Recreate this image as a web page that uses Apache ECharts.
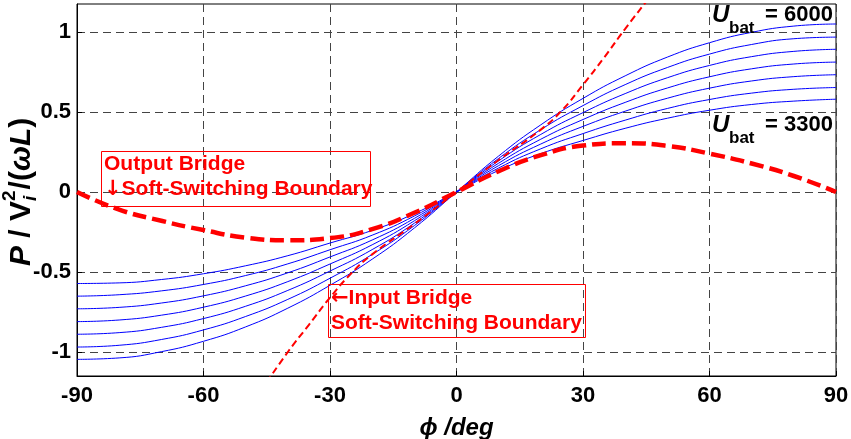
<!DOCTYPE html>
<html>
<head>
<meta charset="utf-8">
<script src="https://cdn.jsdelivr.net/npm/echarts@6/dist/echarts.min.js"></script>
<style>
    html, body { margin: 0; padding: 0; background: #fff; }
    #chart { width: 851px; height: 439px; }
</style>
</head>
<body>
<div id="chart"></div>
<script>
    // phase shift samples (deg)
    const phi = [-90, -80, -70, -60, -50, -40, -30, -20, -10, 0, 10, 20, 30, 40, 50, 60, 70, 80, 90];

    // normalised power curves, Ubat = 6000 (top) ... 3300 (bottom)
    const p6000 = [-1.046, -1.037, -0.998, -0.933, -0.843, -0.726, -0.583, -0.42, -0.225, 0, 0.225, 0.42, 0.585, 0.726, 0.843, 0.933, 0.998, 1.037, 1.05];
    const p5550 = [-0.969, -0.958, -0.922, -0.862, -0.778, -0.671, -0.539, -0.39, -0.21, 0, 0.21, 0.39, 0.54, 0.671, 0.778, 0.862, 0.922, 0.958, 0.968];
    const p5100 = [-0.889, -0.879, -0.846, -0.791, -0.714, -0.615, -0.494, -0.36, -0.195, 0, 0.195, 0.36, 0.496, 0.615, 0.714, 0.791, 0.846, 0.879, 0.892];
    const p4650 = [-0.81, -0.80, -0.77, -0.72, -0.65, -0.56, -0.45, -0.33, -0.18, 0, 0.18, 0.33, 0.453, 0.56, 0.65, 0.72, 0.77, 0.80, 0.812];
    const p4200 = [-0.73, -0.721, -0.694, -0.649, -0.586, -0.505, -0.406, -0.30, -0.165, 0, 0.165, 0.30, 0.41, 0.505, 0.586, 0.649, 0.694, 0.721, 0.733];
    const p3750 = [-0.651, -0.642, -0.618, -0.578, -0.522, -0.449, -0.361, -0.27, -0.15, 0, 0.15, 0.27, 0.365, 0.449, 0.522, 0.578, 0.618, 0.642, 0.653];
    const p3300 = [-0.572, -0.568, -0.547, -0.511, -0.461, -0.398, -0.319, -0.24, -0.135, 0, 0.135, 0.24, 0.322, 0.398, 0.461, 0.511, 0.547, 0.568, 0.58];

    // output bridge soft-switching boundary (thick dashed)
    const pOut = [0, -0.11, -0.18, -0.238, -0.285, -0.302, -0.288, -0.232, -0.13, 0, 0.13, 0.23, 0.29, 0.305, 0.288, 0.24, 0.178, 0.1, 0];

    // input bridge soft-switching boundary (thin dashed)
    const phiIn = [-45, -40, -35, -30, -25, -20, -10, 0, 10, 20, 25, 30, 35, 40, 45];
    const pIn = [-1.19, -1.0, -0.83, -0.66, -0.51, -0.39, -0.2, 0, 0.2, 0.39, 0.51, 0.67, 0.84, 1.02, 1.19];

    const yTicks = [-1, -0.5, 0, 0.5, 1];

    const fam = '"Liberation Sans", Arial, sans-serif';
    const blueCurves = [p6000, p5550, p5100, p4650, p4200, p3750, p3300];

    function pairs(xs, ys) {
        return xs.map((x, i) => [x, ys[i]]);
    }

    // text width helper for the rotated y label
    const ctx = document.createElement('canvas').getContext('2d');
    function tw(font, s) {
        ctx.font = font;
        return ctx.measureText(s).width;
    }

    const fMain = 'bold 30px ' + fam;
    const fIt = 'italic bold 30px ' + fam;
    const fSmall = 'bold 19px ' + fam;
    const fSmallIt = 'italic bold 19px ' + fam;

    let lx = 0;
    const yName = [];
    function put(text, font, dy) {
        yName.push({
            type: 'text',
            x: lx, y: dy,
            style: { text: text, font: font, fill: '#000', textAlign: 'left', align: 'left', textVerticalAlign: 'middle', verticalAlign: 'middle' }
        });
        return tw(font, text);
    }
    lx += put('P', fIt, 0);
    lx += put(' / V', fMain, 0);
    const w2 = put('2', fSmall, -12);
    const wi = put('i', fSmallIt, 9);
    lx += Math.max(w2, wi) + 1;
    lx += put('/(', fMain, 0);
    lx += put('ω', fIt, 0);
    lx += put('L', fIt, 0);
    put(')', fMain, 0);

    const arrowRich = {
        a: { fontFamily: '"DejaVu Sans", sans-serif', fontWeight: 'bold', fontSize: 21, fill: '#ff0000', color: '#ff0000' }
    };
    function redText(text, x, y) {
        return { type: 'text', x: x, y: y, z: 100,
            style: { text: text, font: 'bold 21px ' + fam, fill: '#ff0000', textAlign: 'left', textVerticalAlign: 'top', verticalAlign: 'top', rich: arrowRich } };
    }
    function redBox(x, y, w, h) {
        return { type: 'rect', z: 100, shape: { x: x, y: y, width: w, height: h },
            style: { fill: 'none', stroke: '#ff0000', lineWidth: 1 } };
    }
    function blackText(text, x, y, font, align) {
        return { type: 'text', x: x, y: y, z: 100,
            style: { text: text, font: font, fill: '#000', textAlign: align || 'left', align: align || 'left', textVerticalAlign: 'top', verticalAlign: 'top' } };
    }

    const series = blueCurves.map((c, k) => ({
        name: 'U' + k,
        type: 'line',
        data: pairs(phi, c),
        smooth: true,
        symbol: 'none',
        lineStyle: { color: '#0000ff', width: 1 },
        z: 2
    }));
    series.push({
        type: 'line',
        data: pairs(phiIn, pIn),
        smooth: true,
        symbol: 'none',
        lineStyle: { color: '#ff0000', width: 2, type: [7, 4] },
        z: 3
    });
    series.push({
        type: 'line',
        data: pairs(phi, pOut),
        smooth: true,
        symbol: 'none',
        lineStyle: { color: '#ff0000', width: 4.5, type: [14, 6] },
        z: 4
    });

    const chart = echarts.init(document.getElementById('chart'));
    chart.setOption({
        animation: false,
        backgroundColor: '#fff',
        grid: {
            left: 77, right: 15, top: 4, bottom: 63,
            outerBoundsMode: 'none',
            show: true, borderColor: '#000', borderWidth: 1, backgroundColor: 'transparent'
        },
        xAxis: {
            type: 'value',
            min: -90, max: 90, interval: 30,
            name: '{i|ϕ} /deg',
            nameLocation: 'middle',
            nameGap: 40,
            nameTextStyle: {
                fontFamily: fam, fontSize: 24, fontWeight: 'bold', fontStyle: 'italic', color: '#000',
                rich: { i: { fontFamily: fam, fontSize: 24, fontWeight: 'bold', fontStyle: 'italic', color: '#000' } }
            },
            axisLine: { onZero: false, lineStyle: { color: '#000', width: 1 } },
            axisTick: { inside: true, length: 5, lineStyle: { color: '#000' } },
            axisLabel: { color: '#000', fontFamily: fam, fontSize: 22, fontWeight: 'bold', margin: 9 },
            splitLine: { show: true, lineStyle: { color: '#444', type: [8, 5], width: 1 } }
        },
        yAxis: {
            type: 'value',
            min: -1.15, max: 1.175,
            axisLine: { onZero: false, lineStyle: { color: '#000', width: 1 } },
            axisTick: { inside: true, length: 5, customValues: yTicks, lineStyle: { color: '#000' } },
            axisLabel: { color: '#000', fontFamily: fam, fontSize: 22, fontWeight: 'bold', margin: 6, customValues: yTicks },
            splitLine: { show: true, lineStyle: { color: '#444', type: [8, 5], width: 1 } }
        },
        graphic: [
            { type: 'group', x: 22, y: 266, rotation: Math.PI / 2, z: 100, children: yName },
            redBox(101.5, 151.5, 269, 55),
            redText('Output Bridge', 104, 154),
            redText('{a|↓}Soft-Switching Boundary', 104, 179),
            redBox(328.5, 284.5, 257, 53),
            redText('{a|←}Input Bridge', 331, 288),
            redText('Soft-Switching Boundary', 331, 313),
            blackText('U', 712, 3, 'italic bold 24px ' + fam),
            blackText('bat', 729, 20, 'bold 17px ' + fam),
            blackText('= 6000', 833, 4, 'bold 22px ' + fam, 'right'),
            blackText('U', 712, 113, 'italic bold 24px ' + fam),
            blackText('bat', 729, 130, 'bold 17px ' + fam),
            blackText('= 3300', 833, 114, 'bold 22px ' + fam, 'right')
        ],
        series: series
    });
</script>
</body>
</html>
